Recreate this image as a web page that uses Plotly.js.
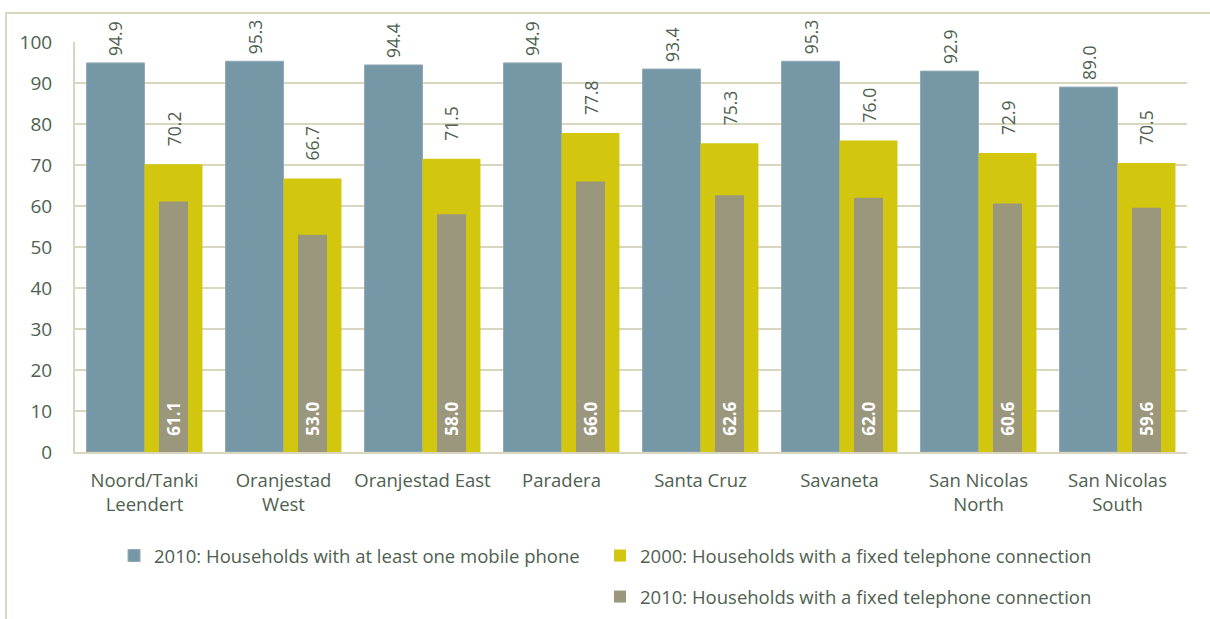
<!DOCTYPE html>
<html>
<head>
<meta charset="utf-8">
<script src="https://cdn.plot.ly/plotly-3.0.1.min.js"></script>
<style>html,body{margin:0;padding:0;background:#fff;overflow:hidden;}#chart{width:1210px;height:619px;}</style>
</head>
<body>
<div id="chart"></div>
<script>
const categories = ['Noord/Tanki<br>Leendert','Oranjestad<br>West','Oranjestad East','Paradera','Santa Cruz','Savaneta','San Nicolas<br>North','San Nicolas<br>South'];
const mobile2010 = [94.9, 95.3, 94.4, 94.9, 93.4, 95.3, 92.9, 89.0];
const fixed2000 = [70.2, 66.7, 71.5, 77.8, 75.3, 76.0, 72.9, 70.5];
const fixed2010 = [61.1, 53.0, 58.0, 66.0, 62.6, 62.0, 60.6, 59.6];
const seriesNames = ['2010: Households with at least one mobile phone','2000: Households with a fixed telephone connection','2010: Households with a fixed telephone connection'];

const FONT = 'Open Sans, Noto Sans, sans-serif';
const TXT = '#4E614F';
const GRID = '#D9D6BF';
const NB = '\u00a0';

const traces = [
  {type:'bar', name:seriesNames[0], x:categories, y:mobile2010,
   marker:{color:'#7698A6', line:{color:'#8FAAB5', width:1}},
   width:0.417, offset:-0.417,
   hoverinfo:'y', legend:'legend'},
  {type:'bar', name:seriesNames[1], x:categories, y:fixed2000,
   marker:{color:'#D2C70E'},
   width:0.417, offset:0,
   hoverinfo:'y', legend:'legend2'},
  {type:'bar', name:seriesNames[2], x:categories, y:fixed2010,
   marker:{color:'#9B977C'},
   width:0.209, offset:0.104,
   text:fixed2010.map(v=>NB+NB+NB+'<b>'+v.toFixed(1)+'</b>'), textposition:'inside', insidetextanchor:'start', textangle:-90,
   insidetextfont:{family:FONT, size:17, color:'#FFFFFF'}, constraintext:'none',
   hoverinfo:'y', legend:'legend3'}
];

function labels(vals, xshift, yshift) {
  return vals.map((v, i) => ({
    x: categories[i], y: v, xref:'x', yref:'y', text: v.toFixed(1), showarrow:false,
    textangle:-90, xanchor:'center', yanchor:'bottom', xshift:xshift, yshift:yshift,
    font:{family:FONT, size:17.5, color:TXT}
  }));
}

const legendBase = {orientation:'h', xanchor:'left', yanchor:'middle',
  font:{family:FONT, size:18.5, color:TXT}, bgcolor:'rgba(0,0,0,0)', itemclick:false, itemdoubleclick:false};

const layout = {
  width:1210, height:619,
  margin:{l:75, r:23, t:42, b:167, autoexpand:false},
  paper_bgcolor:'#fff', plot_bgcolor:'#fff',
  barmode:'overlay',
  font:{family:FONT, color:TXT, size:18},
  xaxis:{type:'category', showgrid:false, showline:true, linecolor:GRID, linewidth:2,
         tickfont:{family:FONT, size:18.5, color:TXT}, ticks:'', ticklabelstandoff:11, fixedrange:true, automargin:false},
  yaxis:{range:[0,100], dtick:10, showgrid:true, gridcolor:GRID, gridwidth:2, showline:true, linecolor:GRID, linewidth:2,
         zeroline:false, tickfont:{family:FONT, size:19, color:TXT}, ticks:'', ticklabelstandoff:17, fixedrange:true, automargin:false},
  showlegend:true,
  legend:Object.assign({}, legendBase, {x:0.0351, y:-0.2537}),
  legend2:Object.assign({}, legendBase, {x:0.4721, y:-0.2537}),
  legend3:Object.assign({}, legendBase, {x:0.4721, y:-0.3537}),
  annotations: labels(mobile2010, -29, 5).concat(labels(fixed2000, 29, 16)),
  shapes:[{type:'rect', xref:'paper', yref:'paper', x0:-0.0620, x1:1.0252, y0:-0.4220, y1:1.0707,
           line:{color:GRID, width:2}, fillcolor:'rgba(0,0,0,0)', layer:'below'}]
};

Plotly.newPlot('chart', traces, layout, {displayModeBar:false, staticPlot:true});
</script>
</body>
</html>
